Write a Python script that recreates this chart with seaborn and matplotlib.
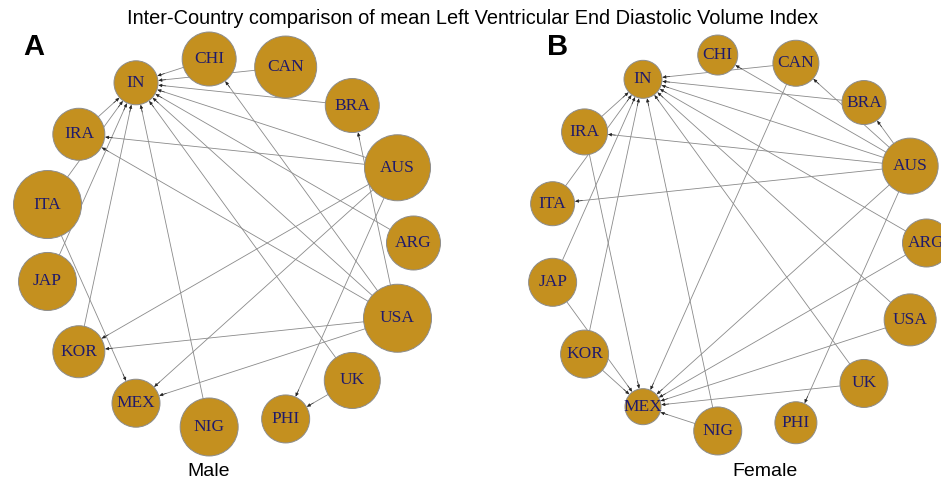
import numpy as np
import matplotlib
matplotlib.use("Agg")
import matplotlib.pyplot as plt
import seaborn as sns

# countries in circular order (clockwise from IN)
countries = ["IN", "CHI", "CAN", "BRA", "AUS", "ARG", "USA", "UK",
             "PHI", "NIG", "MEX", "KOR", "JAP", "ITA", "IRA"]

# node radius (px)
male_size = [22, 27, 31, 27, 33, 27, 34, 28, 24, 29, 24, 26, 29, 34, 26]
female_size = [19, 20, 23, 22, 28, 24, 26, 24, 21, 24, 18, 24, 24, 22, 23]

# directed edges: source -> target
male_src = ["CHI", "CAN", "BRA", "AUS", "ARG", "USA", "UK", "NIG", "KOR", "JAP", "ITA", "IRA",
            "AUS", "AUS", "AUS", "AUS", "USA", "USA", "USA", "USA", "USA", "UK", "ITA"]
male_tgt = ["IN", "IN", "IN", "IN", "IN", "IN", "IN", "IN", "IN", "IN", "IN", "IN",
            "IRA", "KOR", "MEX", "PHI", "IRA", "KOR", "MEX", "BRA", "CHI", "PHI", "MEX"]

female_src = ["CAN", "BRA", "AUS", "ARG", "USA", "UK", "NIG", "KOR", "JAP", "ITA", "IRA",
              "AUS", "AUS", "AUS", "AUS", "AUS", "AUS", "AUS",
              "CAN", "ARG", "USA", "UK", "NIG", "KOR", "JAP", "IRA"]
female_tgt = ["IN", "IN", "IN", "IN", "IN", "IN", "IN", "IN", "IN", "IN", "IN",
              "CHI", "CAN", "BRA", "IRA", "ITA", "MEX", "PHI",
              "MEX", "MEX", "MEX", "MEX", "MEX", "MEX", "MEX", "MEX"]

fill = "#C4901F"
label_col = "#1F1A6B"
edge_col = "#8a8a8a"
head_col = "#222222"

W, H = 941, 484
fig = plt.figure(figsize=(W / 100, H / 100), dpi=100)


def draw_panel(ax, radius_layout, sizes, src, tgt):
    n = len(countries)
    ang = np.deg2rad(120 - 24 * np.arange(n))
    xs = radius_layout * np.cos(ang)
    ys = radius_layout * np.sin(ang)
    pos = {c: (x, y) for c, x, y in zip(countries, xs, ys)}
    rad = dict(zip(countries, sizes))
    for s, t in zip(src, tgt):
        # gray line, then a small dark head at the target
        ax.annotate("", xy=pos[t], xytext=pos[s],
                    arrowprops=dict(arrowstyle="-", color=edge_col, lw=0.6,
                                    shrinkA=0, shrinkB=rad[t] * 0.72 + 0.5),
                    zorder=1)
        x0, y0 = pos[s]
        x1, y1 = pos[t]
        d = np.hypot(x1 - x0, y1 - y0)
        f = 1 - (rad[t] + 8) / d
        ax.annotate("", xy=pos[t], xytext=(x0 + f * (x1 - x0), y0 + f * (y1 - y0)),
                    arrowprops=dict(arrowstyle="-|>", color=head_col, lw=0.4,
                                    shrinkA=0, shrinkB=rad[t] * 0.72 + 0.5,
                                    mutation_scale=5),
                    zorder=2)
    s_pts = (1.44 * np.array(sizes)) ** 2
    sns.scatterplot(x=xs, y=ys, s=s_pts, color=fill, edgecolor="#8c8c8c",
                    linewidth=0.7, ax=ax, legend=False, zorder=3)
    for c in countries:
        ax.text(pos[c][0], pos[c][1], c, ha="center", va="center",
                fontsize=12.5, family="Liberation Serif", color=label_col, zorder=4)


ax_a = fig.add_axes([0, 0, 470 / W, 1])
ax_a.set_xlim(-228.5, 470 - 228.5)
ax_a.set_ylim(-(H - 243), 243)
ax_a.axis("off")
draw_panel(ax_a, 185, male_size, male_src, male_tgt)

ax_b = fig.add_axes([470 / W, 0, 471 / W, 1])
ax_b.set_xlim(470 - 737.5, W - 737.5)
ax_b.set_ylim(-(H - 243), 243)
ax_b.axis("off")
draw_panel(ax_b, 189, female_size, female_src, female_tgt)

fig.text(473 / W, 1 - 18 / H, "Inter-Country comparison of mean Left Ventricular End Diastolic Volume Index",
         ha="center", va="center", fontsize=14.4, family="Liberation Sans")
fig.text(23 / W, 1 - 47 / H, "A", ha="left", va="center", fontsize=21,
         fontweight="bold", family="Liberation Sans")
fig.text(547 / W, 1 - 47 / H, "B", ha="left", va="center", fontsize=21,
         fontweight="bold", family="Liberation Sans")
fig.text(209 / W, 1 - 472 / H, "Male", ha="center", va="center", fontsize=14,
         family="Liberation Sans")
fig.text(765 / W, 1 - 472 / H, "Female", ha="center", va="center", fontsize=14,
         family="Liberation Sans")

fig.savefig("out.png", dpi=100, facecolor="white")
